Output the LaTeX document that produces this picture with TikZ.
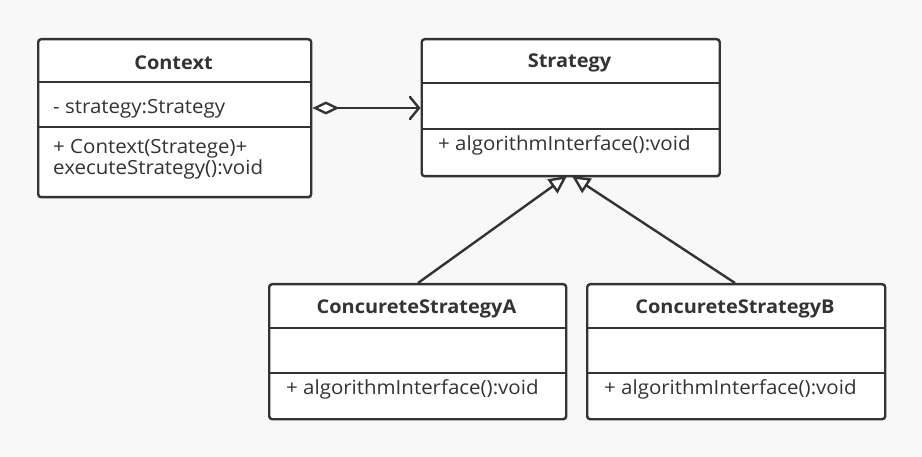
\documentclass[tikz,border=0pt]{standalone}
\usepackage{fontspec}
\setmainfont{Open Sans}[FakeStretch=1.05]
\usetikzlibrary{arrows.meta}
\definecolor{linec}{HTML}{333333}
\definecolor{textc}{HTML}{333333}
\definecolor{bgc}{HTML}{F8F8F8}
\begin{document}
\begin{tikzpicture}[x=1pt,y=-1pt,
  box/.style={draw=linec, line width=2.4pt, fill=white, rounded corners=3pt, rectangle, anchor=north west, inner sep=0pt},
  sep/.style={draw=linec, line width=2.4pt},
  title/.style={font=\fontsize{19}{20}\selectfont\bfseries, text=textc, inner sep=0pt},
  member/.style={font=\fontsize{19.5}{21}\selectfont, text=textc, anchor=west, align=left, inner sep=0pt},
  conn/.style={draw=linec, line width=2.4pt}]
\fill[bgc] (0,0) rectangle (922,457);
\useasboundingbox (0,0) rectangle (922,457);
% Context
\node[box, minimum width=273pt, minimum height=158pt] (ctx) at (37,38) {};
\draw[sep] (37,82) -- (310,82);
\draw[sep] (37,127) -- (310,127);
\node[title] (ctxT) at (173.5,63) {Context};
\node[member] (ctxA) at (53,108.5) {- strategy:Strategy};
\node[member, anchor=north west] (ctxM) at (53,139) {+ Context(Stratege)+\\executeStrategy():void};
% Strategy
\node[box, minimum width=298pt, minimum height=137pt] (str) at (420.5,38) {};
\draw[sep] (420.5,83) -- (718.5,83);
\draw[sep] (420.5,129) -- (718.5,129);
\node[title] (strT) at (569.5,63) {Strategy};
\node[member] (strM) at (438,145.5) {+ algorithmInterface():void};
% A
\node[box, minimum width=297pt, minimum height=135pt] (ca) at (268,283) {};
\draw[sep] (268,328) -- (565,328);
\draw[sep] (268,373) -- (565,373);
\node[title] (caT) at (416.5,309) {ConcureteStrategyA};
\node[member] (caM) at (286,389.5) {+ algorithmInterface():void};
% B
\node[box, minimum width=298pt, minimum height=135pt] (cb) at (586,283) {};
\draw[sep] (586,328) -- (884,328);
\draw[sep] (586,373) -- (884,373);
\node[title] (cbT) at (735,309) {ConcureteStrategyB};
\node[member] (cbM) at (604,389.5) {+ algorithmInterface():void};
% connectors
\coordinate (tipA) at (567,176);
\coordinate (tipB) at (572,176);
\draw[conn, {Diamond[open, fill=white, length=27pt, width=13pt]}-{Straight Barb[length=9pt, width=22pt, line cap=round]}]
  (ctx.east |- 0,108) -- (str.west |- 0,108);
\draw[conn, -{Triangle[open, fill=white, length=18pt, width=17pt]}] (418,283) -- (tipA);
\draw[conn, -{Triangle[open, fill=white, length=18pt, width=17pt]}] (735,283) -- (tipB);
\end{tikzpicture}
\end{document}
